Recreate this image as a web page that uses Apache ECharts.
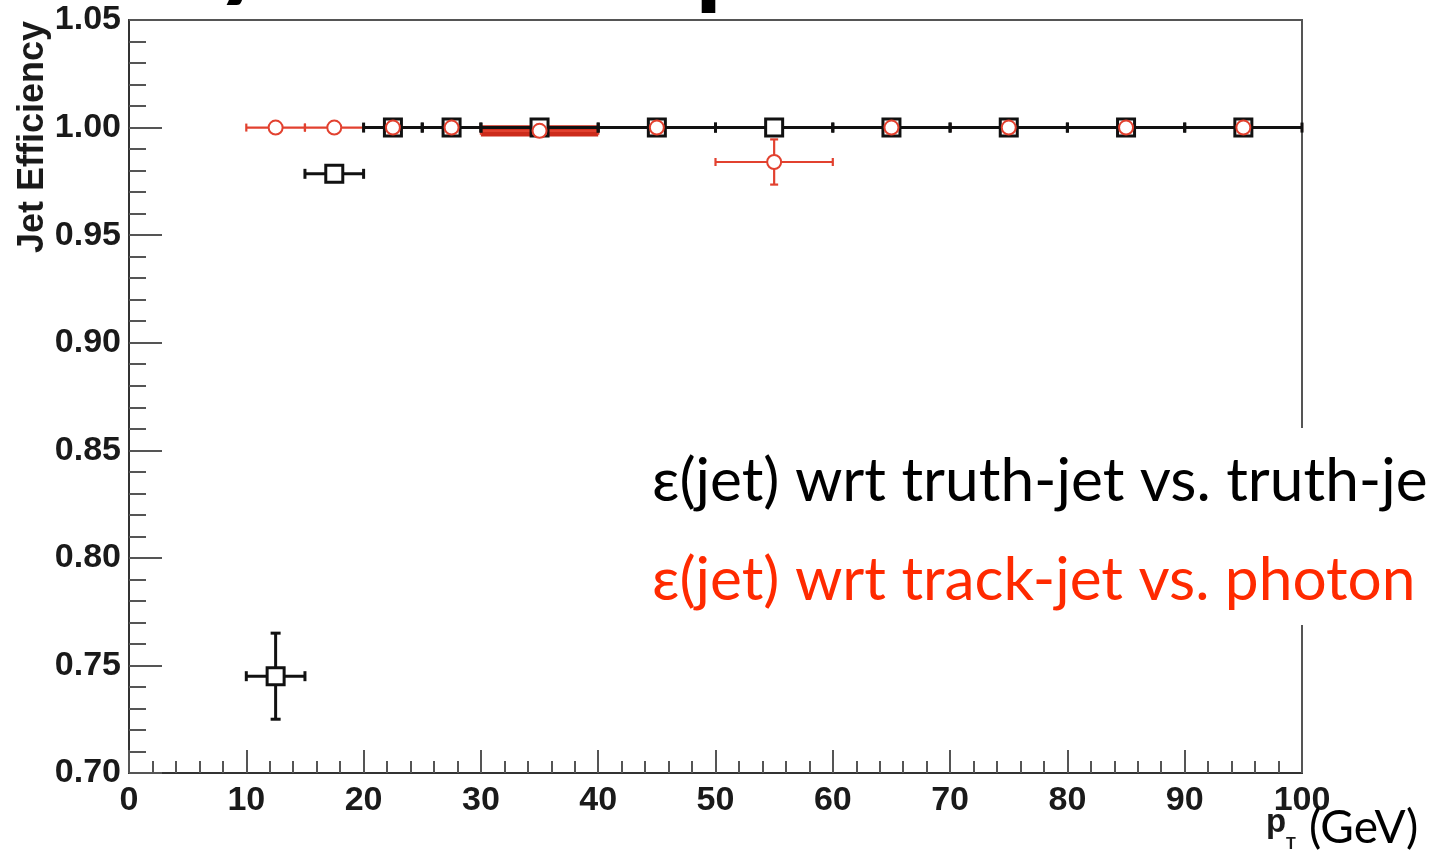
<!DOCTYPE html>
<html><head><meta charset="utf-8">
<script src="https://cdn.jsdelivr.net/npm/echarts@6/dist/echarts.min.js"></script>
<style>html,body{margin:0;padding:0;background:#fff}#c{width:1429px;height:857px}</style>
</head><body><div id="c"></div>
<script>
// ---- data ----
const blackX    = [12.5, 17.5, 22.5, 27.5, 35, 45, 55, 65, 75, 85, 95];
const blackXLo  = [10, 15, 20, 25, 30, 40, 50, 60, 70, 80, 90];
const blackXHi  = [15, 20, 25, 30, 40, 50, 60, 70, 80, 90, 100];
const blackY    = [0.745, 0.9785, 1, 1, 1, 1, 1, 1, 1, 1, 1];
const blackYErr = [0.020, 0.002, 0, 0, 0, 0, 0, 0, 0, 0, 0];

const redX    = [12.5, 17.5, 22.5, 27.5, 35, 45, 55, 65, 75, 85, 95];
const redXLo  = [10, 15, 20, 25, 30, 40, 50, 60, 70, 80, 90];
const redXHi  = [15, 20, 25, 30, 40, 50, 60, 70, 80, 90, 100];
const redY    = [1, 1, 1, 1, 0.9985, 1, 0.984, 1, 1, 1, 1];
const redYErr = [0, 0, 0, 0, 0.0027, 0, 0.0105, 0, 0, 0, 0];
// band drawn for the 30-40 GeV red bin: [xLo, xHi, yLo, yHi]
const redBand = [[30, 40, 0.9958, 1.0011]];

const xTicks = {min: 0, max: 100, step: 10};
const yTicks = {min: 0.70, max: 1.05, step: 0.05};

const line1 = 'ε(jet) wrt truth-jet vs. truth-je';
const line2 = 'ε(jet) wrt track-jet vs. photon';
const yTitle = 'Jet Efficiency';

// ---- build ----
const RED = '#e2412f';
function rows(X, Lo, Hi, Y, E) {
  return X.map((x, i) => [x, Lo[i], Hi[i], Y[i], Y[i] - E[i], Y[i] + E[i]]);
}
function makeErr(color, lw, cap) {
  return function (params, api) {
    const x = api.value(0), xl = api.value(1), xh = api.value(2);
    const y = api.value(3), yl = api.value(4), yh = api.value(5);
    const st = {stroke: color, lineWidth: lw};
    const pL = api.coord([xl, y]), pR = api.coord([xh, y]);
    const ch = [
      {type: 'line', shape: {x1: pL[0], y1: pL[1], x2: pR[0], y2: pR[1]}, style: st},
      {type: 'line', shape: {x1: pL[0], y1: pL[1] - cap, x2: pL[0], y2: pL[1] + cap}, style: st},
      {type: 'line', shape: {x1: pR[0], y1: pR[1] - cap, x2: pR[0], y2: pR[1] + cap}, style: st}
    ];
    if (yh > yl) {
      const pT = api.coord([x, yh]), pB = api.coord([x, yl]);
      ch.push({type: 'line', shape: {x1: pT[0], y1: pT[1], x2: pB[0], y2: pB[1]}, style: st});
      ch.push({type: 'line', shape: {x1: pT[0] - cap, y1: pT[1], x2: pT[0] + cap, y2: pT[1]}, style: st});
      ch.push({type: 'line', shape: {x1: pB[0] - cap, y1: pB[1], x2: pB[0] + cap, y2: pB[1]}, style: st});
    }
    return {type: 'group', children: ch};
  };
}

const axisFont = {fontFamily: 'Liberation Sans', fontWeight: 'bold', fontSize: 34, color: '#1a1a1a'};
const tickStyle = {color: '#555', width: 2};

const chart = echarts.init(document.getElementById('c'), null, {renderer: 'canvas'});
chart.setOption({
  animation: false,
  backgroundColor: '#fff',
  grid: {left: 129, right: 127, top: 20, bottom: 84, show: true, borderColor: '#555', borderWidth: 2, backgroundColor: 'transparent'},
  xAxis: {
    type: 'value', min: xTicks.min, max: xTicks.max, interval: xTicks.step,
    axisLine: {lineStyle: {color: '#333', width: 2}},
    axisTick: {inside: true, length: 23, lineStyle: tickStyle},
    minorTick: {show: true, splitNumber: 5, length: 12, lineStyle: tickStyle},
    splitLine: {show: false},
    axisLabel: Object.assign({margin: 11}, axisFont)
  },
  yAxis: {
    type: 'value', min: yTicks.min, max: yTicks.max, interval: yTicks.step,
    axisLine: {lineStyle: {color: '#333', width: 2}},
    axisTick: {inside: true, length: 33, lineStyle: tickStyle},
    minorTick: {show: true, splitNumber: 5, length: 17, lineStyle: tickStyle},
    splitLine: {show: false},
    axisLabel: Object.assign({margin: 8, formatter: v => v.toFixed(2)}, axisFont)
  },
  series: [
    {
      type: 'custom', silent: true, data: redBand,
      encode: {x: [0, 1], y: [2, 3]},
      renderItem: function (params, api) {
        const a = api.coord([api.value(0), api.value(3)]);
        const b = api.coord([api.value(1), api.value(2)]);
        return {type: 'rect', shape: {x: a[0], y: a[1], width: b[0] - a[0], height: b[1] - a[1]}, style: {fill: '#cc2b1b'}};
      }
    },
    {type: 'custom', silent: true, data: rows(redX, redXLo, redXHi, redY, redYErr),
     encode: {x: [0, 1, 2], y: [3, 4, 5]}, renderItem: makeErr(RED, 2.2, 4)},
    {type: 'custom', silent: true, data: rows(blackX, blackXLo, blackXHi, blackY, blackYErr),
     encode: {x: [0, 1, 2], y: [3, 4, 5]}, renderItem: makeErr('#111', 3, 5)},
    {type: 'scatter', silent: true, symbol: 'rect', symbolSize: 17,
     data: blackX.map((x, i) => [x, blackY[i]]),
     itemStyle: {color: '#fff', borderColor: '#111', borderWidth: 3, opacity: 1}},
    {type: 'scatter', silent: true, symbol: 'circle', symbolSize: 14,
     data: redX.map((x, i) => [x, redY[i]]),
     itemStyle: {color: '#fff', borderColor: RED, borderWidth: 2, opacity: 1}}
  ],
  graphic: [
    {type: 'text', x: 33, y: 21, rotation: Math.PI / 2, z: 50,
     style: {text: yTitle, font: 'bold 36px "Liberation Sans"', fill: '#1a1a1a', textAlign: 'right', textVerticalAlign: 'middle', align: 'right', verticalAlign: 'middle'}},
    {type: 'rect', z: 100, shape: {x: 640, y: 428, width: 789, height: 197}, style: {fill: '#fff'}},
    {type: 'text', z: 101, style: {text: line1, x: 652, y: 482, font: '60.4px Lato', fill: '#000', textVerticalAlign: 'middle', verticalAlign: 'middle'}},
    {type: 'text', z: 101, style: {text: line2, x: 652, y: 581, font: '60.4px Lato', fill: '#ff2a00', textVerticalAlign: 'middle', verticalAlign: 'middle'}},
    {type: 'text', z: 101, style: {text: 'p', x: 1266, y: 823, font: 'bold 33px "Liberation Sans"', fill: '#1a1a1a', textVerticalAlign: 'middle', verticalAlign: 'middle'}},
    {type: 'text', z: 101, style: {text: 'T', x: 1286, y: 845, font: 'bold 16px "Liberation Sans"', fill: '#1a1a1a', textVerticalAlign: 'middle', verticalAlign: 'middle'}},
    {type: 'text', z: 101, style: {text: '(GeV)', x: 1309, y: 828, font: '46px Lato', fill: '#000', textVerticalAlign: 'middle', verticalAlign: 'middle'}},
    {type: 'text', z: 101, style: {text: 'y', x: 214, y: -48, font: 'bold 110px Lato', fill: '#000', textVerticalAlign: 'middle', verticalAlign: 'middle'}},
    {type: 'text', z: 101, style: {text: 'p', x: 695, y: -40, font: 'bold 110px Lato', fill: '#000', textVerticalAlign: 'middle', verticalAlign: 'middle'}}
  ]
});
</script></body></html>
